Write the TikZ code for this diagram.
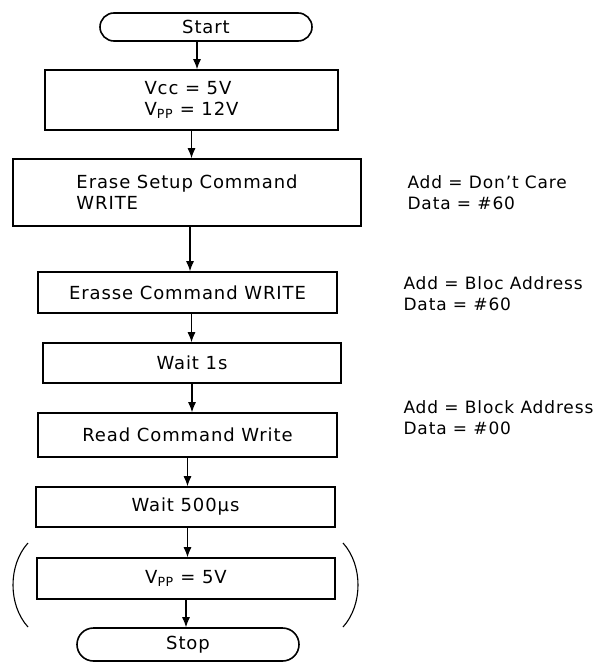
\documentclass[tikz,border=0pt]{standalone}
\usepackage{fontspec}
\setmainfont{DejaVu Sans}[LetterSpace=5]
\usetikzlibrary{shapes}
\usetikzlibrary{arrows.meta}
\tikzset{
	flownode/.style = {
		inner sep=0pt,
		font=\fontsize{18}{21}\selectfont,
		anchor=center
	},
	node_box/.style = {
		flownode,
		rectangle,
		align=center,
		draw=black,
		line width=1.6pt
	},
	node_term/.style = {
		flownode,
		rounded rectangle,
		align=center,
		draw=black,
		line width=1.6pt
	},
	node_note/.style = {
		flownode,
		font=\fontsize{17}{21}\selectfont,
		align=left,
		anchor=west
	},
}

\begin{document}
\begin{tikzpicture}[-{Latex[length=10pt,width=8pt]},x=1pt,y=-1pt,line width=1.1pt]
\useasboundingbox (0,0) rectangle (599,663);
\node [node_term, minimum width=212pt, minimum height=28pt] (start) at (206,27) {Start};
\node [node_box, align=left, minimum width=293pt, minimum height=60pt] (vcc) at (191.5,100) {Vcc = 5V\\V\textsubscript{PP} = 12V};
\node [node_box, align=left, minimum width=348pt, minimum height=67pt] (setup) at (187,192.5) {Erase Setup Command\\WRITE};
\node [node_box, minimum width=299pt, minimum height=41pt] (erase) at (187.5,292.5) {Erasse Command WRITE};
\node [node_box, minimum width=298pt, minimum height=40pt] (wait1) at (192,363) {Wait 1s};
\node [node_box, minimum width=299pt, minimum height=44pt] (read) at (187.5,435) {Read Command Write};
\node [node_box, minimum width=299pt, minimum height=40pt] (wait2) at (185.5,507) {Wait 500µs};
\node [node_box, minimum width=298pt, minimum height=41pt] (vpp) at (186,578.5) {V\textsubscript{PP} = 5V};
\node [node_term, minimum width=222pt, minimum height=33pt] (stop) at (188,644.5) {Stop};
% notes
\node [node_note] (note1) at (407,192.5) {Add = Don’t Care\\Data = \#60};
\node [node_note] (note2) at (403,294) {Add = Bloc Address\\Data = \#60};
\node [node_note] (note3) at (403,417.5) {Add = Block Address\\Data = \#00};
% arrows
\draw ([xshift=-9pt]start.south) -- ([xshift=-9pt]start.south |- vcc.north);
\draw (vcc.south) -- (vcc.south |- setup.north);
\draw ([xshift=3pt]setup.south) -- ([xshift=3pt]setup.south |- erase.north);
\draw ([xshift=4pt]erase.south) -- ([xshift=4pt]erase.south |- wait1.north);
\draw (wait1.south) -- (wait1.south |- read.north);
\draw (read.south) -- (read.south |- wait2.north);
\draw ([xshift=2pt]wait2.south) -- ([xshift=2pt]wait2.south |- vpp.north);
\draw (vpp.south) -- (vpp.south |- stop.north);
% brackets
\draw [-] (28,543) .. controls (8,565) and (8,605) .. (28,627);
\draw [-] (343,543) .. controls (363,565) and (363,605) .. (343,627);
\end{tikzpicture}
\end{document}
